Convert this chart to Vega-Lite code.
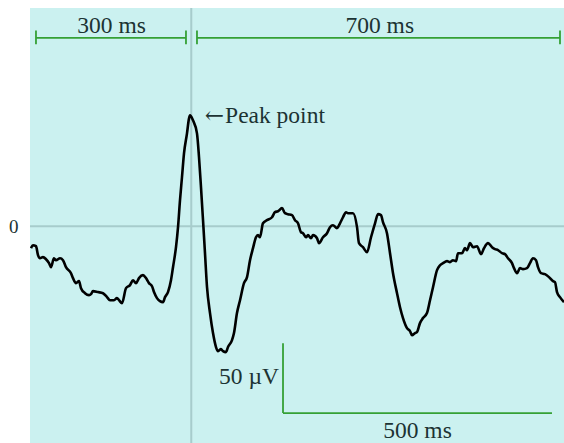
{
  "$schema": "https://vega.github.io/schema/vega-lite/v6.json",
  "autosize": "none",
  "width": 534,
  "height": 435,
  "padding": {"left": 30, "top": 8, "right": 0, "bottom": 0},
  "background": "white",
  "config": {"view": {"fill": "#cbf1f0", "stroke": null}},
  "datasets": {
    "eeg": [
      {"t":1.9,"v":-15.7},{"t":5.6,"v":-13.6},{"t":11.2,"v":-14.3},{"t":15.0,"v":-20.7},{"t":18.7,"v":-22.9},
      {"t":24.3,"v":-22.1},{"t":30.0,"v":-23.6},{"t":35.6,"v":-26.4},{"t":39.3,"v":-29.3},{"t":44.9,"v":-22.9},
      {"t":48.7,"v":-24.3},{"t":56.2,"v":-22.9},{"t":61.8,"v":-24.3},{"t":67.4,"v":-29.3},{"t":76.8,"v":-33.6},
      {"t":80.5,"v":-37.1},{"t":86.1,"v":-40.7},{"t":91.8,"v":-39.3},{"t":95.5,"v":-44.3},{"t":103.0,"v":-47.9},
      {"t":110.5,"v":-49.3},{"t":114.2,"v":-48.6},{"t":118.0,"v":-46.4},{"t":127.3,"v":-47.1},{"t":136.7,"v":-47.9},
      {"t":144.2,"v":-50.7},{"t":149.8,"v":-52.9},{"t":157.3,"v":-52.9},{"t":162.9,"v":-51.4},{"t":166.7,"v":-52.9},
      {"t":172.3,"v":-55.0},{"t":179.8,"v":-44.3},{"t":187.3,"v":-42.1},{"t":192.9,"v":-38.6},{"t":198.5,"v":-40.7},
      {"t":204.1,"v":-37.1},{"t":211.6,"v":-35.0},{"t":217.2,"v":-37.1},{"t":222.8,"v":-40.7},{"t":228.5,"v":-42.9},
      {"t":232.2,"v":-47.1},{"t":237.8,"v":-51.4},{"t":243.4,"v":-53.6},{"t":249.1,"v":-54.3},{"t":252.8,"v":-50.7},
      {"t":258.4,"v":-47.1},{"t":264.0,"v":-38.6},{"t":267.8,"v":-29.3},{"t":273.4,"v":-15.0},{"t":277.2,"v":-0.7},
      {"t":280.9,"v":18.6},{"t":284.6,"v":35.0},{"t":288.4,"v":52.1},{"t":294.0,"v":66.4},{"t":297.8,"v":77.1},
      {"t":299.6,"v":79.3},{"t":305.2,"v":75.7},{"t":312.7,"v":66.4},{"t":316.5,"v":49.3},{"t":320.2,"v":27.9},
      {"t":324.0,"v":4.3},{"t":327.7,"v":-19.3},{"t":331.5,"v":-43.6},{"t":337.1,"v":-62.1},{"t":342.7,"v":-76.4},
      {"t":348.3,"v":-86.4},{"t":352.1,"v":-89.3},{"t":357.7,"v":-87.9},{"t":361.4,"v":-89.3},{"t":367.0,"v":-90.0},
      {"t":370.8,"v":-86.4},{"t":378.3,"v":-81.4},{"t":382.0,"v":-76.4},{"t":387.6,"v":-62.1},{"t":393.3,"v":-52.9},
      {"t":400.7,"v":-40.7},{"t":406.4,"v":-36.4},{"t":412.0,"v":-24.3},{"t":417.6,"v":-15.7},{"t":423.2,"v":-7.9},
      {"t":427.0,"v":-6.4},{"t":430.7,"v":-7.9},{"t":436.3,"v":2.1},{"t":443.8,"v":4.3},{"t":453.2,"v":6.4},
      {"t":458.8,"v":10.0},{"t":464.4,"v":10.7},{"t":471.9,"v":12.9},{"t":477.5,"v":9.3},{"t":483.1,"v":8.6},
      {"t":490.6,"v":7.9},{"t":496.3,"v":4.3},{"t":501.9,"v":2.1},{"t":507.5,"v":-4.3},{"t":511.2,"v":-5.0},
      {"t":516.9,"v":-7.9},{"t":520.6,"v":-6.4},{"t":526.2,"v":-8.6},{"t":530.0,"v":-6.4},{"t":537.5,"v":-8.6},
      {"t":541.2,"v":-12.1},{"t":548.7,"v":-7.9},{"t":556.2,"v":-5.0},{"t":561.8,"v":-0.7},{"t":567.4,"v":0.7},
      {"t":574.9,"v":-1.4},{"t":580.5,"v":2.1},{"t":586.1,"v":6.4},{"t":591.8,"v":10.0},{"t":595.5,"v":9.3},
      {"t":604.9,"v":9.3},{"t":612.4,"v":-0.7},{"t":616.1,"v":-12.1},{"t":623.6,"v":-15.0},{"t":631.1,"v":-18.6},
      {"t":638.6,"v":-7.9},{"t":646.1,"v":2.1},{"t":651.7,"v":8.6},{"t":657.3,"v":7.9},{"t":661.0,"v":2.9},
      {"t":668.5,"v":-5.0},{"t":674.2,"v":-19.3},{"t":679.8,"v":-33.6},{"t":687.3,"v":-47.9},{"t":692.9,"v":-57.9},
      {"t":698.5,"v":-65.7},{"t":706.0,"v":-72.9},{"t":711.6,"v":-75.0},{"t":715.4,"v":-77.9},{"t":721.0,"v":-76.4},
      {"t":724.7,"v":-75.7},{"t":730.3,"v":-69.3},{"t":735.9,"v":-65.7},{"t":743.4,"v":-62.1},{"t":749.1,"v":-52.9},
      {"t":754.7,"v":-43.6},{"t":762.2,"v":-31.4},{"t":767.8,"v":-27.9},{"t":773.4,"v":-26.4},{"t":780.9,"v":-25.0},
      {"t":786.5,"v":-25.7},{"t":792.1,"v":-24.3},{"t":797.8,"v":-25.0},{"t":801.5,"v":-19.3},{"t":809.0,"v":-19.3},
      {"t":814.6,"v":-15.7},{"t":818.4,"v":-17.1},{"t":824.0,"v":-12.1},{"t":829.6,"v":-15.0},{"t":837.1,"v":-14.3},
      {"t":844.6,"v":-20.0},{"t":850.2,"v":-15.7},{"t":857.7,"v":-12.1},{"t":865.2,"v":-15.0},{"t":870.8,"v":-16.4},
      {"t":876.4,"v":-17.1},{"t":883.9,"v":-19.3},{"t":889.5,"v":-20.0},{"t":895.1,"v":-22.9},{"t":902.6,"v":-26.4},
      {"t":906.4,"v":-30.0},{"t":912.0,"v":-33.6},{"t":917.6,"v":-30.0},{"t":923.2,"v":-30.7},{"t":930.7,"v":-30.0},
      {"t":936.3,"v":-26.4},{"t":941.9,"v":-22.9},{"t":947.6,"v":-24.3},{"t":951.3,"v":-29.3},{"t":956.9,"v":-33.6},
      {"t":964.4,"v":-34.3},{"t":971.9,"v":-36.4},{"t":979.4,"v":-39.3},{"t":983.1,"v":-40.0},{"t":986.9,"v":-47.1},
      {"t":992.5,"v":-50.7},{"t":1000,"v":-54.3}
    ],
    "greenbars": [
      {"t":11.2,"t2":292.1,"v":134.6,"v2":134.6},
      {"t":11.2,"t2":11.2,"v":130,"v2":140},
      {"t":292.1,"t2":292.1,"v":130,"v2":140},
      {"t":312.7,"t2":992.5,"v":134.6,"v2":134.6},
      {"t":312.7,"t2":312.7,"v":130,"v2":140},
      {"t":992.5,"t2":992.5,"v":130,"v2":140},
      {"t":473.8,"t2":473.8,"v":-83.6,"v2":-133.6},
      {"t":473.8,"t2":977.5,"v":-133.6,"v2":-133.6}
    ],
    "labels": [
      {"t":152.8,"v":138.4,"label":"300 ms"},
      {"t":655.0,"v":138.4,"label":"700 ms"},
      {"t":458.8,"v":73.6,"label":"Peak point"},
      {"t":410.1,"v":-112.9,"label":"50 µV"},
      {"t":725.7,"v":-151.4,"label":"500 ms"}
    ],
    "arrow": [
      {"t":345.5,"v":73.6,"label":"←"}
    ]
  },
  "layer": [
    {
      "data": {"values": [{"v": 0}]},
      "mark": {"type": "rule", "color": "#a7cccc", "strokeWidth": 2},
      "encoding": {
        "y": {"field": "v", "type": "quantitative", "scale": {"domain": [-155, 156], "nice": false, "zero": false},
              "axis": {"values": [0], "title": null, "domain": false, "ticks": false, "grid": false,
                       "labelFont": "Liberation Serif", "labelFontSize": 19, "labelColor": "#1c3333", "labelPadding": 12}}
      }
    },
    {
      "data": {"values": [{"t": 302}]},
      "mark": {"type": "rule", "color": "#a7cccc", "strokeWidth": 2},
      "encoding": {
        "x": {"field": "t", "type": "quantitative", "scale": {"domain": [0, 1000], "nice": false, "zero": false}, "axis": null}
      }
    },
    {
      "data": {"name": "eeg"},
      "mark": {"type": "line", "color": "black", "strokeWidth": 2.6, "interpolate": "monotone", "clip": true},
      "encoding": {
        "x": {"field": "t", "type": "quantitative"},
        "y": {"field": "v", "type": "quantitative"}
      }
    },
    {
      "data": {"name": "greenbars"},
      "mark": {"type": "rule", "color": "#35a035", "strokeWidth": 1.8},
      "encoding": {
        "x": {"field": "t", "type": "quantitative"},
        "x2": {"field": "t2"},
        "y": {"field": "v", "type": "quantitative"},
        "y2": {"field": "v2"}
      }
    },
    {
      "data": {"name": "labels"},
      "mark": {"type": "text", "font": "Liberation Serif", "fontSize": 23.5, "color": "#1c3333", "align": "center", "baseline": "alphabetic"},
      "encoding": {
        "x": {"field": "t", "type": "quantitative"},
        "y": {"field": "v", "type": "quantitative"},
        "text": {"field": "label"}
      }
    },
    {
      "data": {"name": "arrow"},
      "mark": {"type": "text", "font": "DejaVu Serif", "fontSize": 23, "color": "#1c3333", "align": "center", "baseline": "alphabetic"},
      "encoding": {
        "x": {"field": "t", "type": "quantitative"},
        "y": {"field": "v", "type": "quantitative"},
        "text": {"field": "label"}
      }
    }
  ]
}
